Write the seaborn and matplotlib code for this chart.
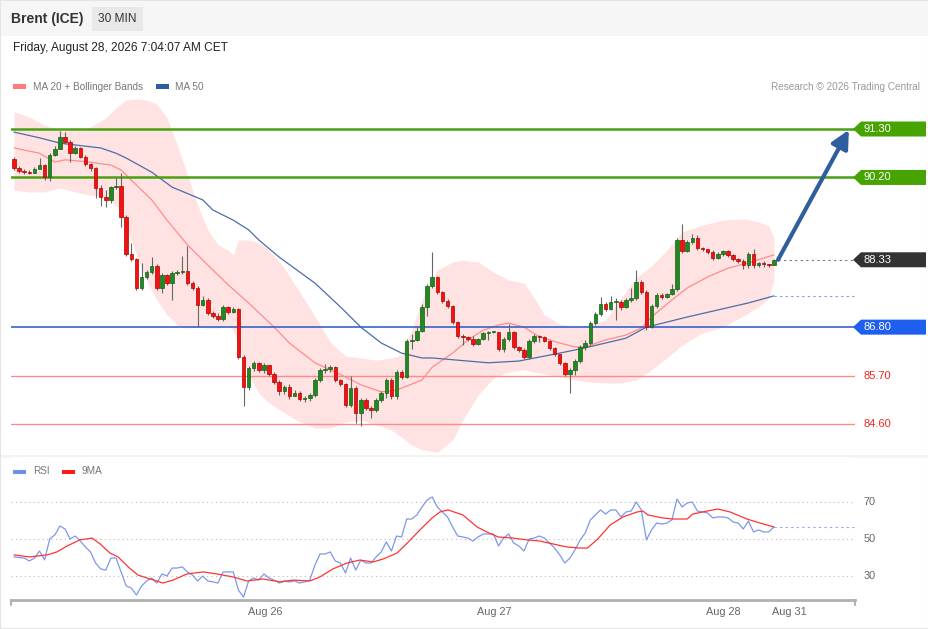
import numpy as np
import pandas as pd
import matplotlib
matplotlib.use("Agg")
import matplotlib.pyplot as plt
from matplotlib.patches import Polygon, Rectangle
import seaborn as sns

# ---- candles (30 min) ----
first_open = 90.62
closes = [
    90.41, 90.35, 90.32, 90.30, 90.39, 90.48, 90.21, 90.71, 90.85, 91.12,
    91.00, 90.75, 90.87, 90.66, 90.51, 90.41, 89.96, 89.76, 89.69, 89.98,
    90.01, 89.30, 88.46, 88.35, 87.69, 87.94, 88.05, 88.19, 87.69, 87.98,
    87.80, 88.03, 88.05, 88.08, 87.80, 87.69, 87.30, 87.42, 87.12, 87.05,
    86.98, 87.26, 87.14, 87.21, 86.12, 85.44, 85.87, 85.99, 85.83, 85.94,
    85.74, 85.55, 85.35, 85.44, 85.24, 85.30, 85.17, 85.19, 85.26, 85.60,
    85.83, 85.85, 85.90, 85.60, 85.51, 85.03, 85.42, 84.85, 85.15, 84.96,
    84.92, 85.15, 85.30, 85.60, 85.24, 85.78, 85.67, 86.49, 86.51, 86.71,
    87.26, 87.73, 87.94, 87.60, 87.39, 87.28, 86.92, 86.60, 86.58, 86.53,
    86.42, 86.53, 86.67, 86.69, 86.69, 86.30, 86.53, 86.69, 86.35, 86.28,
    86.12, 86.49, 86.60, 86.58, 86.49, 86.33, 86.19, 85.99, 85.74, 85.83,
    86.03, 86.35, 86.44, 86.89, 87.10, 87.33, 87.21, 87.37, 87.37, 87.26,
    87.42, 87.46, 87.83, 87.60, 86.80, 87.28, 87.53, 87.48, 87.55, 87.67,
    88.78, 88.53, 88.73, 88.82, 88.60, 88.57, 88.51, 88.37, 88.46, 88.53,
    88.44, 88.35, 88.30, 88.21, 88.46, 88.21, 88.26, 88.23, 88.21, 88.33,
]
highs = [
    90.66, 90.46, 90.39, 90.37, 90.44, 90.64, 90.51, 90.75, 90.91, 91.25,
    91.23, 91.05, 90.91, 90.89, 90.71, 90.53, 90.44, 90.03, 89.91, 90.01,
    90.19, 90.30, 89.35, 88.71, 88.37, 88.26, 88.10, 88.39, 88.23, 88.03,
    88.01, 88.08, 88.10, 88.42, 88.64, 87.85, 87.73, 87.51, 87.46, 87.17,
    87.12, 87.30, 87.28, 87.26, 87.23, 86.17, 85.92, 86.03, 86.01, 85.99,
    85.92, 85.78, 85.60, 85.49, 85.51, 85.37, 85.35, 85.24, 85.30, 85.65,
    85.87, 85.96, 85.94, 85.92, 85.62, 85.53, 85.69, 85.46, 85.19, 85.19,
    85.01, 85.19, 85.35, 85.65, 85.65, 85.83, 85.83, 86.53, 86.64, 86.83,
    87.33, 87.78, 88.51, 87.96, 87.62, 87.44, 87.30, 86.94, 86.64, 86.60,
    86.60, 86.55, 86.69, 86.71, 86.71, 86.51, 86.58, 86.87, 86.71, 86.37,
    86.33, 86.53, 86.64, 86.62, 86.60, 86.51, 86.35, 86.19, 86.01, 85.87,
    86.07, 86.39, 86.51, 86.94, 87.14, 87.48, 87.37, 87.51, 87.46, 87.42,
    87.46, 87.69, 88.10, 87.87, 87.64, 87.33, 87.58, 87.58, 87.58, 87.78,
    88.82, 89.14, 88.78, 88.92, 88.89, 88.62, 88.57, 88.55, 88.51, 88.55,
    88.55, 88.46, 88.37, 88.35, 88.51, 88.57, 88.28, 88.30, 88.23, 88.35,
]
lows = [
    90.37, 90.30, 90.28, 90.28, 90.32, 90.44, 90.14, 90.12, 90.69, 90.85,
    90.96, 90.55, 90.73, 90.64, 90.46, 90.35, 89.73, 89.55, 89.53, 89.62,
    89.94, 89.07, 88.42, 88.30, 87.64, 87.64, 87.89, 88.01, 87.64, 87.58,
    87.76, 87.42, 87.98, 88.01, 87.76, 87.64, 86.80, 87.28, 87.08, 87.01,
    86.94, 86.94, 87.10, 87.12, 86.08, 85.01, 85.37, 85.80, 85.78, 85.76,
    85.69, 85.51, 85.26, 85.28, 85.17, 85.24, 85.12, 85.10, 85.12, 85.21,
    85.55, 85.76, 85.78, 85.55, 85.46, 84.99, 84.99, 84.62, 84.55, 84.92,
    84.74, 84.87, 85.10, 85.19, 85.17, 85.17, 85.62, 85.64, 86.30, 86.49,
    86.69, 87.05, 87.69, 87.55, 87.35, 87.23, 86.87, 86.55, 86.39, 86.49,
    86.37, 86.39, 86.51, 86.51, 86.67, 86.26, 86.24, 86.49, 86.30, 86.24,
    86.08, 86.08, 86.44, 86.46, 86.46, 86.28, 86.14, 85.94, 85.69, 85.30,
    85.71, 85.99, 86.28, 86.39, 86.85, 87.05, 87.17, 87.19, 86.96, 87.19,
    87.23, 87.37, 87.42, 87.55, 86.73, 86.78, 87.23, 87.44, 87.46, 87.53,
    87.62, 88.48, 88.51, 88.69, 88.55, 88.53, 88.46, 88.32, 88.35, 88.42,
    88.39, 88.30, 88.26, 88.12, 88.14, 88.14, 88.17, 88.17, 88.17, 88.21,
]

# ---- bollinger bands / moving averages (sampled at candle index) ----
band_idx = [0, 3, 6, 9, 12, 15, 18, 20, 22, 24, 26, 28, 30, 32, 34, 36, 38, 40, 42, 43,
            44, 46, 48, 50, 53, 56, 59, 62, 65, 68, 71, 74, 76, 78, 80, 83, 86, 88, 91, 94,
            97, 100, 102, 104, 107, 110, 113, 116, 119, 122, 125, 128, 131, 135, 139, 143, 146, 148, 149]
band_upper = [91.69, 91.57, 91.39, 91.28, 91.28, 91.35, 91.55, 91.78, 91.96, 91.98,
              91.96, 91.87, 91.55, 90.94, 90.26, 89.57, 89.01, 88.67, 88.55, 88.44,
              88.78, 88.78, 88.71, 88.55, 88.14, 87.60, 87.05, 86.46, 86.14, 86.10,
              86.05, 86.10, 86.17, 86.73, 87.42, 88.10, 88.28, 88.32, 88.28, 88.05,
              87.87, 87.80, 87.46, 87.08, 86.87, 86.80, 86.85, 86.96, 87.46, 87.92,
              88.19, 88.55, 88.96, 89.12, 89.23, 89.26, 89.19, 89.10, 88.82]
band_lower = [89.91, 89.87, 89.87, 89.96, 89.87, 89.80, 89.76, 89.57, 89.12, 88.44,
              87.87, 87.42, 87.08, 86.85, 86.78, 86.80, 86.78, 86.78, 86.85, 86.73,
              86.39, 85.71, 85.30, 85.08, 84.85, 84.65, 84.51, 84.51, 84.65, 84.69,
              84.58, 84.46, 84.30, 84.12, 84.01, 83.96, 84.24, 84.69, 85.26, 85.64,
              85.78, 85.83, 85.78, 85.74, 85.67, 85.60, 85.55, 85.53, 85.53, 85.60,
              85.83, 86.10, 86.39, 86.67, 86.80, 87.05, 87.26, 87.46, 87.87]

ma20_idx = [0, 5, 8, 10, 13, 16, 19, 21, 23, 27, 30, 34, 38, 42, 46, 51, 54, 59, 62, 65,
            68, 72, 75, 80, 82, 86, 89, 92, 95, 97, 100, 103, 107, 110, 112, 116, 120, 123, 125, 129,
            132, 136, 140, 144, 147, 149]
ma20 = [90.87, 90.75, 90.55, 90.60, 90.57, 90.53, 90.48, 90.37, 90.14, 89.69,
        89.23, 88.67, 88.21, 87.76, 87.35, 86.80, 86.44, 85.99, 85.83, 85.67,
        85.49, 85.33, 85.37, 85.60, 85.89, 86.21, 86.51, 86.73, 86.85, 86.89,
        86.80, 86.58, 86.44, 86.35, 86.35, 86.51, 86.62, 86.78, 87.03, 87.42,
        87.69, 87.94, 88.14, 88.26, 88.37, 88.44]

ma50_idx = [0, 5, 9, 14, 17, 20, 22, 27, 31, 37, 39, 43, 46, 48, 52, 59, 64, 68, 72, 76,
            80, 82, 89, 93, 99, 103, 107, 112, 116, 120, 124, 132, 138, 144, 149]
ma50 = [91.23, 91.10, 90.98, 90.91, 90.87, 90.75, 90.64, 90.32, 89.98, 89.69,
        89.46, 89.23, 89.01, 88.78, 88.39, 87.80, 87.26, 86.80, 86.44, 86.21,
        86.10, 86.10, 86.03, 85.99, 86.03, 86.12, 86.21, 86.33, 86.44, 86.55,
        86.80, 87.03, 87.19, 87.35, 87.51]

# ---- key levels ----
resistances = [91.30, 90.20]
pivot = 86.80
supports = [85.70, 84.60]
last_price = 88.33

# ---- RSI panel ----
rsi = [
    40.3, 40.0, 39.7, 38.1, 39.7, 43.5, 38.7, 50.0, 52.2, 57.0,
    55.4, 50.0, 51.6, 48.9, 45.7, 43.0, 37.0, 33.8, 33.2, 39.7,
    39.7, 32.2, 24.6, 23.5, 19.7, 24.6, 27.3, 28.9, 26.2, 31.1,
    30.0, 34.3, 34.3, 34.9, 32.2, 30.5, 27.3, 30.0, 27.3, 26.8,
    26.2, 32.2, 32.2, 32.2, 22.4, 18.6, 27.3, 28.9, 27.8, 31.1,
    28.9, 27.8, 26.2, 27.3, 26.8, 27.3, 26.2, 26.8, 27.8, 35.9,
    41.9, 41.9, 43.0, 38.1, 37.0, 31.6, 39.7, 33.2, 38.6, 37.0,
    37.0, 40.3, 43.0, 48.4, 43.5, 51.6, 51.1, 60.8, 60.8, 63.0,
    67.3, 71.1, 72.7, 67.3, 64.6, 61.9, 56.5, 51.6, 51.1, 50.5,
    48.9, 51.1, 52.7, 52.7, 52.7, 46.2, 50.5, 52.7, 47.8, 46.2,
    43.5, 50.0, 50.5, 51.6, 50.5, 47.8, 45.1, 41.4, 37.0, 39.7,
    44.1, 49.5, 53.2, 60.3, 63.0, 65.7, 63.5, 65.7, 65.7, 61.9,
    64.6, 65.1, 70.0, 65.7, 49.5, 54.9, 58.6, 58.1, 58.6, 60.3,
    71.6, 67.3, 69.5, 70.0, 65.1, 64.6, 64.1, 61.4, 61.9, 61.9,
    61.4, 59.2, 58.6, 55.4, 59.7, 53.8, 54.9, 53.8, 53.8, 56.5,
]
rsi_ma_idx = [0, 3, 6.5, 8.4, 10.4, 12.9, 15.3, 16.9, 18.8, 20.4,
              22.4, 24.3, 26.7, 29.2, 31.2, 33.9, 37.1, 39.8, 42.9, 45.7,
              48.8, 52.2, 54.7, 58, 60, 62.5, 65.3, 67.8, 70.4, 72.4,
              75.1, 77.1, 79.6, 82, 83.5, 85.1, 88, 90.8, 92.7, 94.9,
              97.8, 100.6, 103.1, 105.7, 108.4, 111, 112.4, 114.3, 116.9, 119.4,
              122.2, 123.3, 124.3, 127.1, 129.2, 132, 133.1, 135.9, 138, 140.4,
              143.7, 146.3, 149]
rsi_ma = [41.4, 40.3, 41.4, 43.0, 46.2, 49.5, 50.5, 47.3, 42.4, 40.3,
          34.9, 30.5, 28.4, 26.2, 27.8, 31.1, 32.2, 31.1, 29.5, 27.3,
          28.4, 26.8, 27.8, 27.3, 29.5, 33.8, 37.0, 38.6, 37.6, 39.2,
          42.4, 47.8, 54.9, 61.4, 64.6, 65.7, 63.0, 56.5, 53.8, 51.1,
          50.5, 49.5, 48.9, 47.3, 45.7, 45.1, 45.1, 49.5, 57.6, 61.9,
          64.6, 65.1, 63.0, 61.4, 60.8, 60.8, 63.5, 65.1, 66.2, 64.6,
          60.8, 58.6, 56.5]
rsi_levels = [70, 50, 30]

day_labels = ['Aug 26', 'Aug 27', 'Aug 28', 'Aug 31']
day_pos = [49.2, 94.1, 139.0, 152.0]

# ------------------------------------------------------------------
sns.set_theme(style="white")
plt.rcParams['font.family'] = ['Liberation Sans', 'DejaVu Sans']

W, H = 929, 629
fig = plt.figure(figsize=(W / 100, H / 100), dpi=100)
fig.patch.set_facecolor('white')


def fbox(x0, y0, x1, y1):
    # pixel box (top-left origin) -> figure fraction rect
    return [x0 / W, 1 - y1 / H, (x1 - x0) / W, (y1 - y0) / H]


def frect(x0, y0, x1, y1, color, z=0):
    r = Rectangle((x0 / W, 1 - y1 / H), (x1 - x0) / W, (y1 - y0) / H,
                  transform=fig.transFigure, facecolor=color, edgecolor='none', zorder=z)
    fig.add_artist(r)


# header strip
frect(0, 0, W, 36, '#f6f6f6')
frect(92, 7, 143, 31, '#e8e8e8', 1)
frect(0, 455, W, 458, '#f3f3f3')
fig.text(11 / W, 1 - 19 / H, 'Brent (ICE)', weight='bold', size=10, color='#333333', va='center')
fig.text(117.5 / W, 1 - 19 / H, '30 MIN', size=8.6, color='#333333', ha='center', va='center', zorder=2)
fig.text(13 / W, 1 - 48 / H, 'Friday, August 28, 2026 7:04:07 AM CET', size=8.6, color='#222222', va='center')

# legends
frect(13, 84.5, 26, 88.5, '#ff7b7b', 2)
fig.text(33 / W, 1 - 86.5 / H, 'MA 20 + Bollinger Bands', size=7.2, color='#777777', va='center')
frect(156, 84.5, 169, 88.5, '#2f5e9e', 2)
fig.text(175 / W, 1 - 86.5 / H, 'MA 50', size=7.2, color='#777777', va='center')
fig.text(920 / W, 1 - 86.5 / H, 'Research \u00a9 2026 Trading Central', size=7.2,
         color='#9a9a9a', va='center', ha='right')
frect(13, 469.5, 26, 473.5, '#6d8fe6', 2)
fig.text(33 / W, 1 - 471.5 / H, 'RSI', size=7.2, color='#777777', va='center')
frect(62, 469.5, 75, 473.5, '#ff1a1a', 2)
fig.text(82 / W, 1 - 471.5 / H, '9MA', size=7.2, color='#777777', va='center')

# ---- price panel ----
XL = (-0.59, 164.9)
ax = fig.add_axes(fbox(11, 37, 855, 455))
ax.set_xlim(*XL)
ax.set_ylim(83.896, 93.39)
ax.set_axis_off()

ax.fill_between(band_idx, band_lower, band_upper, color='#ffe2e2', lw=0, zorder=1)
sns.lineplot(x=ma20_idx, y=ma20, ax=ax, color='#ff8c8c', lw=0.9, zorder=2)
sns.lineplot(x=ma50_idx, y=ma50, ax=ax, color='#4a6ea8', lw=0.9, zorder=2)

for lv in resistances:
    ax.axhline(lv, color='#4aa012', lw=1.8, zorder=2)
ax.axhline(pivot, color='#3a62cc', lw=1.2, zorder=2)
for lv in supports:
    ax.axhline(lv, color='#ff8a8a', lw=1.0, zorder=2)

n = len(closes)
opens = [first_open] + closes[:-1]
df = pd.DataFrame({'o': opens, 'h': highs, 'l': lows, 'c': closes})
df['i'] = np.arange(n)
top = np.maximum(df.o, df.c)
bot = np.minimum(df.o, df.c)
ax.vlines(df.i, np.minimum(df.l, bot), np.maximum(df.h, top), color='#666666', lw=0.8, zorder=3)
body = np.maximum(top - bot, 0.025)
up = df.c >= df.o
ax.bar(df.i[up], body[up], bottom=bot[up], width=0.68, color='#1f8a1f',
       edgecolor='#175e17', lw=0.5, zorder=4)
ax.bar(df.i[~up], body[~up], bottom=bot[~up], width=0.68, color='#f21212',
       edgecolor='#b30000', lw=0.5, zorder=4)

# dotted continuation of last price and MA 50
ax.plot([n - 0.2, XL[1]], [last_price, last_price], color='#777777', lw=0.8, ls=(0, (2, 3)), zorder=2)
ax.plot([ma50_idx[-1], XL[1]], [ma50[-1], ma50[-1]], color='#7f9cd2', lw=0.8, ls=(0, (2, 3)), zorder=2)

# forecast arrow towards first resistance
ax.annotate('', xy=(163.7, resistances[0] - 0.02), xytext=(n - 0.2, last_price),
            arrowprops=dict(arrowstyle='-|>,head_width=0.45,head_length=0.9',
                            color='#2f5e9e', lw=3.0, shrinkA=0, shrinkB=0), zorder=6)

# right-side price tags
aw = 844.0
hh = 7.5 / 44.03
ytr = ax.get_yaxis_transform()


def tag(price, face, txt_color='white'):
    if face is not None:
        pts = [(1 - 2 / aw, price), (1 + 6 / aw, price + hh), (1 + 71 / aw, price + hh),
               (1 + 71 / aw, price - hh), (1 + 6 / aw, price - hh)]
        ax.add_patch(Polygon(pts, closed=True, transform=ytr, facecolor=face,
                             edgecolor='none', clip_on=False, zorder=5))
    ax.text(1 + 9 / aw, price, f'{price:.2f}', transform=ytr, color=txt_color,
            size=8.0, va='center', ha='left', zorder=6, clip_on=False)


for lv in resistances:
    tag(lv, '#46a300')
tag(last_price, '#333333')
tag(pivot, '#1f5ff0')
for lv in supports:
    tag(lv, None, '#f02525')

# ---- RSI panel ----
ax2 = fig.add_axes(fbox(11, 457, 855, 600))
ax2.set_xlim(*XL)
ax2.set_ylim(17.03, 94.3)
for s in ['top', 'left', 'right']:
    ax2.spines[s].set_visible(False)
ax2.spines['bottom'].set_color('#b0b0b0')
ax2.spines['bottom'].set_linewidth(2)
ax2.set_facecolor('white')
ax2.set_yticks([])

for v in rsi_levels:
    ax2.axhline(v, color='#bbbbbb', lw=0.8, ls=(0, (1, 3)), zorder=1)
    ax2.text(1 + 9 / aw, v, str(v), transform=ax2.get_yaxis_transform(),
             color='#666666', size=7.8, va='center', ha='left')

sns.lineplot(x=np.arange(n), y=rsi, ax=ax2, color='#7d98ea', lw=0.9, zorder=3)
sns.lineplot(x=rsi_ma_idx, y=rsi_ma, ax=ax2, color='#ff3333', lw=0.9, zorder=4)
ax2.plot([n - 1, XL[1]], [rsi[-1], rsi[-1]], color='#8fa6ee', lw=0.8, ls=(0, (2, 3)), zorder=2)

for xe in XL:
    ax2.plot([xe, xe], [17.03, 17.03 - 5 / 1.85], color='#b0b0b0', lw=1.5, clip_on=False)

ax2.set_xticks(day_pos)
ax2.set_xticklabels(day_labels)
ax2.tick_params(axis='x', length=0, pad=5, labelsize=7.8, labelcolor='#666666')
ax2.set_xlabel('')
ax2.set_ylabel('')

# outer frame
fig.add_artist(Rectangle((0, 0), 1, 1, fill=False, edgecolor='#e4e4e4', lw=1.5,
                         transform=fig.transFigure))

fig.savefig('out.png', dpi=100)
